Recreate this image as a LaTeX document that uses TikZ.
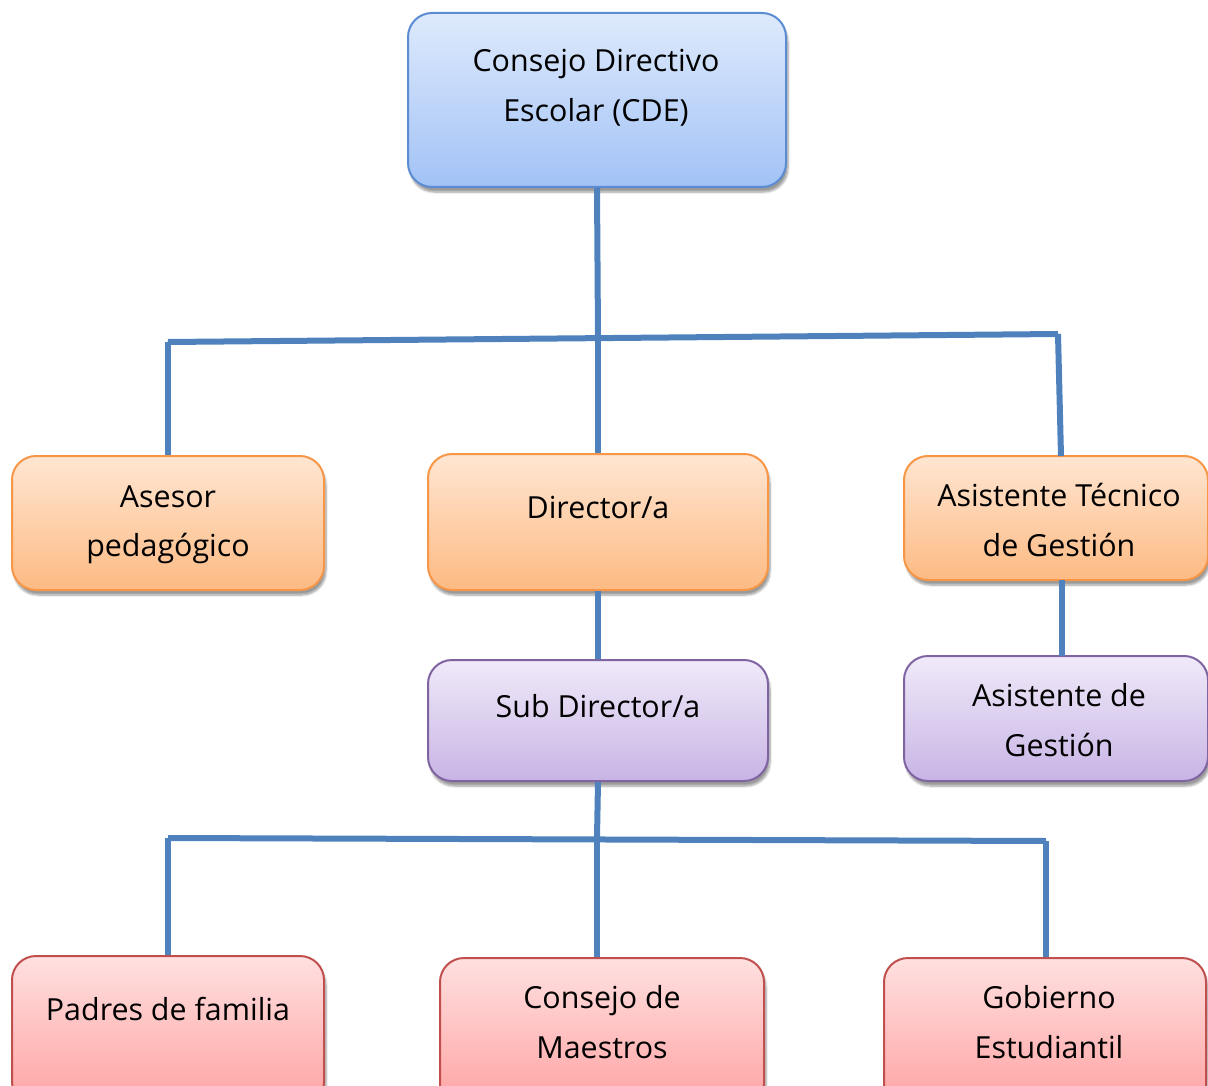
\documentclass[tikz,border=0pt]{standalone}
\usepackage{fontspec}
\setmainfont{Open Sans}
\usetikzlibrary{shadows.blur}
\definecolor{lineblue}{HTML}{4F81BD}
\definecolor{bluetop}{HTML}{DEEAFC}
\definecolor{bluebot}{HTML}{A2C2F6}
\definecolor{blueborder}{HTML}{5B8CD2}
\definecolor{orgtop}{HTML}{FFE6D2}
\definecolor{orgbot}{HTML}{FDBA83}
\definecolor{orgborder}{HTML}{F79646}
\definecolor{purtop}{HTML}{F0EAF9}
\definecolor{purbot}{HTML}{C8B4E5}
\definecolor{purborder}{HTML}{8064A2}
\definecolor{redtop}{HTML}{FFE0E0}
\definecolor{redbot}{HTML}{FFA2A2}
\definecolor{redborder}{HTML}{C0504D}
\tikzset{
  x=1pt,y=-1pt,
  boxbase/.style={rounded corners=24pt, line width=2pt, inner sep=0pt,
    blur shadow={shadow xshift=2pt, shadow yshift=-5pt, shadow blur steps=6, shadow opacity=40}},
  bluebox/.style={boxbase, draw=blueborder, top color=bluetop, bottom color=bluebot},
  orgbox/.style={boxbase, draw=orgborder, top color=orgtop, bottom color=orgbot},
  purbox/.style={boxbase, draw=purborder, top color=purtop, bottom color=purbot},
  redbox/.style={boxbase, draw=redborder, top color=redtop, bottom color=redbot},
  lbl/.style={align=center, font=\fontsize{30.4}{49.5}\selectfont, inner sep=0pt},
  conn/.style={draw=lineblue, line width=6pt},
}
\begin{document}
\begin{tikzpicture}
\clip (0,0) rectangle (1208,1086);
% boxes
\node[bluebox, minimum width=378pt, minimum height=174pt] (cde) at (597,100) {};
\node[orgbox, minimum width=312pt, minimum height=134pt] (ase) at (168,523) {};
\node[orgbox, minimum width=340pt, minimum height=136pt] (dir) at (598,522) {};
\node[orgbox, minimum width=304pt, minimum height=124pt] (ast) at (1056,518) {};
\node[purbox, minimum width=340pt, minimum height=121pt] (sub) at (598,720.5) {};
\node[purbox, minimum width=304pt, minimum height=125pt] (asg) at (1056,718.5) {};
\node[redbox, minimum width=312pt, minimum height=150pt] (pad) at (168,1031) {};
\node[redbox, minimum width=324pt, minimum height=150pt] (cm) at (602,1033) {};
\node[redbox, minimum width=322pt, minimum height=150pt] (gob) at (1045,1033) {};
% labels
\node[lbl] (tcde) at (596,88) {Consejo Directivo\\Escolar (CDE)};
\node[lbl] (tase) at (168,525) {Asesor\\pedagógico};
\node[lbl] (tdir) at (598,507) {Director/a};
\node[lbl] (tast) at (1059,520) {Asistente Técnico\\de Gestión};
\node[lbl] (tsub) at (598,706) {Sub Director/a};
\node[lbl] (tasg) at (1059,720) {Asistente de\\Gestión};
\node[lbl] (tpad) at (168,1009) {Padres de familia};
\node[lbl] (tcm) at (602,1022) {Consejo de\\Maestros};
\node[lbl] (tgob) at (1049,1022) {Gobierno\\Estudiantil};
% junctions
\coordinate (j1) at (598,337);
\coordinate (jl) at (168,342);
\coordinate (jr) at (1058,334);
\coordinate (j2) at (597,838);
\coordinate (kl) at (168,838);
\coordinate (kr) at (1046,841);
% connectors
\draw[conn] (cde.south) -- (j1);
\draw[conn] (jl) -- (jr);
\draw[conn] (jl) -- (ase.north -| jl);
\draw[conn] (j1) -- (dir.north);
\draw[conn] (jr) -- (1061,456) coordinate (astin);
\draw[conn] (dir.south) -- (sub.north);
\draw[conn] (1062,580) coordinate (astout) -- (1062,656) coordinate (asgin);
\draw[conn] (sub.south) -- (j2);
\draw[conn] (kl) -- (kr);
\draw[conn] (kl) -- (pad.north -| kl);
\draw[conn] (j2) -- (cm.north -| j2);
\draw[conn] (kr) -- (gob.north -| kr);
\end{tikzpicture}
\end{document}
